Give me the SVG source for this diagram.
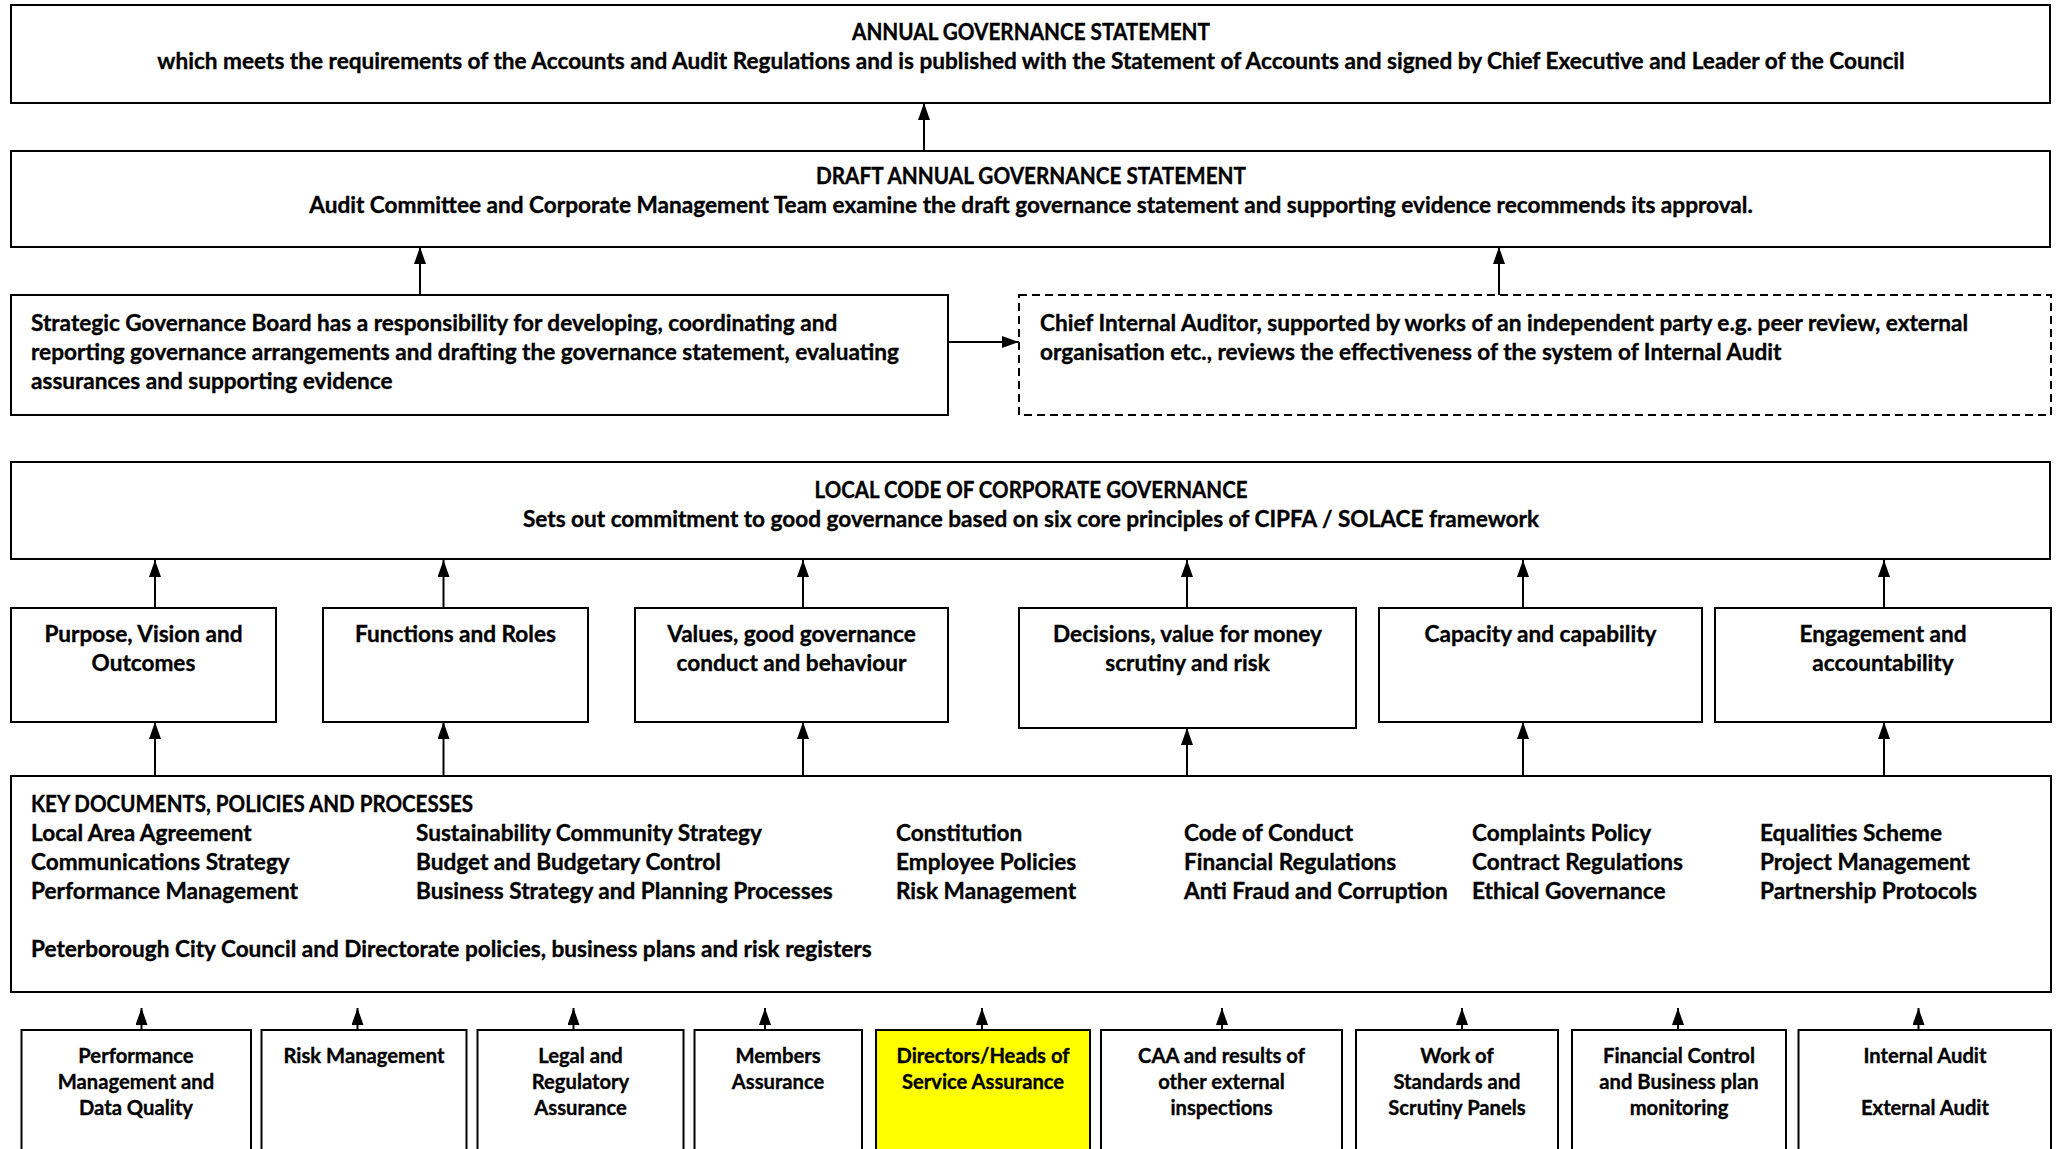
<svg xmlns="http://www.w3.org/2000/svg" width="2058" height="1149" viewBox="0 0 2058 1149">
<defs>
<marker id="ah" markerUnits="userSpaceOnUse" markerWidth="17" markerHeight="12" refX="17" refY="6" orient="auto">
<path d="M0,0 L17,6 L0,12 z" fill="#000"/>
</marker>
<style>
.box{fill:#fff;stroke:#000;stroke-width:2}
.dash{fill:#fff;stroke:#000;stroke-width:2;stroke-dasharray:8 5}
.yel{fill:#ffff00;stroke:#000;stroke-width:2}
text{font-family:Lato,"Liberation Sans",sans-serif;font-weight:bold;font-size:22.6px;fill:#000;stroke:#000;stroke-width:0.35px}
.c{text-anchor:middle}
.s{font-size:20.2px}
.con line{stroke:#000;stroke-width:2;marker-end:url(#ah)}
</style>
</defs>
<rect width="2058" height="1149" fill="#fff"/>

<g id="annual">
<rect class="box" x="11" y="5" width="2039" height="98"/>
<text class="c" x="1031" y="39.5" textLength="358" lengthAdjust="spacingAndGlyphs">ANNUAL GOVERNANCE STATEMENT</text>
<text class="c" x="1031" y="68.5">which meets the requirements of the Accounts and Audit Regulations and is published with the Statement of Accounts and signed by Chief Executive and Leader of the Council</text>
</g>
<g id="draft">
<rect class="box" x="11" y="151" width="2039" height="96"/>
<text class="c" x="1031" y="183.5" textLength="430" lengthAdjust="spacingAndGlyphs">DRAFT ANNUAL GOVERNANCE STATEMENT</text>
<text class="c" x="1031" y="212.5">Audit Committee and Corporate Management Team examine the draft governance statement and supporting evidence recommends its approval.</text>
</g>
<g id="strategic">
<rect class="box" x="11" y="295" width="937" height="120"/>
<text x="31" y="330.5">Strategic Governance Board has a responsibility for developing, coordinating and</text>
<text x="31" y="359.5">reporting governance arrangements and drafting the governance statement, evaluating</text>
<text x="31" y="388.5">assurances and supporting evidence</text>
</g>
<g id="chief">
<rect class="dash" x="1019" y="295" width="1032" height="120"/>
<text x="1040" y="330.5">Chief Internal Auditor, supported by works of an independent party e.g. peer review, external</text>
<text x="1040" y="359.5">organisation etc., reviews the effectiveness of the system of Internal Audit</text>
</g>
<g id="localcode">
<rect class="box" x="11" y="462" width="2039" height="97"/>
<text class="c" x="1031" y="497.5" textLength="433" lengthAdjust="spacingAndGlyphs">LOCAL CODE OF CORPORATE GOVERNANCE</text>
<text class="c" x="1031" y="526.5">Sets out commitment to good governance based on six core principles of CIPFA / SOLACE framework</text>
</g>

<g id="purpose">
<rect class="box" x="11" y="608" width="265" height="114"/>
<text class="c" x="143.5" y="641.5">Purpose, Vision and</text>
<text class="c" x="143.5" y="670.5">Outcomes</text>
</g>
<g id="functions">
<rect class="box" x="323" y="608" width="265" height="114"/>
<text class="c" x="455.5" y="641.5">Functions and Roles</text>
</g>
<g id="values">
<rect class="box" x="635" y="608" width="313" height="114"/>
<text class="c" x="791.5" y="641.5">Values, good governance</text>
<text class="c" x="791.5" y="670.5">conduct and behaviour</text>
</g>
<g id="decisions">
<rect class="box" x="1019" y="608" width="337" height="120"/>
<text class="c" x="1187.5" y="641.5">Decisions, value for money</text>
<text class="c" x="1187.5" y="670.5">scrutiny and risk</text>
</g>
<g id="capacity">
<rect class="box" x="1379" y="608" width="323" height="114"/>
<text class="c" x="1540.5" y="641.5">Capacity and capability</text>
</g>
<g id="engagement">
<rect class="box" x="1715" y="608" width="336" height="114"/>
<text class="c" x="1883" y="641.5">Engagement and</text>
<text class="c" x="1883" y="670.5">accountability</text>
</g>

<g id="keydocs">
<rect class="box" x="11" y="776" width="2040" height="216"/>
<text x="31" y="811.5" textLength="442" lengthAdjust="spacingAndGlyphs">KEY DOCUMENTS, POLICIES AND PROCESSES</text>
<text x="31" y="840.5">Local Area Agreement</text>
<text x="31" y="869.5">Communications Strategy</text>
<text x="31" y="898.5">Performance Management</text>
<text x="416" y="840.5">Sustainability Community Strategy</text>
<text x="416" y="869.5">Budget and Budgetary Control</text>
<text x="416" y="898.5">Business Strategy and Planning Processes</text>
<text x="896" y="840.5">Constitution</text>
<text x="896" y="869.5">Employee Policies</text>
<text x="896" y="898.5">Risk Management</text>
<text x="1184" y="840.5">Code of Conduct</text>
<text x="1184" y="869.5">Financial Regulations</text>
<text x="1184" y="898.5">Anti Fraud and Corruption</text>
<text x="1472" y="840.5">Complaints Policy</text>
<text x="1472" y="869.5">Contract Regulations</text>
<text x="1472" y="898.5">Ethical Governance</text>
<text x="1760" y="840.5">Equalities Scheme</text>
<text x="1760" y="869.5">Project Management</text>
<text x="1760" y="898.5">Partnership Protocols</text>
<text x="31" y="956.5">Peterborough City Council and Directorate policies, business plans and risk registers</text>
</g>

<g id="perf">
<rect class="box" x="21.5" y="1030" width="229.5" height="140"/>
<text class="c s" x="136" y="1063">Performance</text>
<text class="c s" x="136" y="1089">Management and</text>
<text class="c s" x="136" y="1115">Data Quality</text>
</g>
<g id="risk">
<rect class="box" x="261.5" y="1030" width="205" height="140"/>
<text class="c s" x="364" y="1063">Risk Management</text>
</g>
<g id="legal">
<rect class="box" x="477.5" y="1030" width="206" height="140"/>
<text class="c s" x="580.5" y="1063">Legal and</text>
<text class="c s" x="580.5" y="1089">Regulatory</text>
<text class="c s" x="580.5" y="1115">Assurance</text>
</g>
<g id="members">
<rect class="box" x="694.5" y="1030" width="167.5" height="140"/>
<text class="c s" x="778" y="1063">Members</text>
<text class="c s" x="778" y="1089">Assurance</text>
</g>
<g id="directors">
<rect class="yel" x="876" y="1030" width="214" height="140"/>
<text class="c s" x="983" y="1063">Directors/Heads of</text>
<text class="c s" x="983" y="1089">Service Assurance</text>
</g>
<g id="caa">
<rect class="box" x="1101" y="1030" width="241" height="140"/>
<text class="c s" x="1221.5" y="1063">CAA and results of</text>
<text class="c s" x="1221.5" y="1089">other external</text>
<text class="c s" x="1221.5" y="1115">inspections</text>
</g>
<g id="standards">
<rect class="box" x="1356" y="1030" width="202" height="140"/>
<text class="c s" x="1457" y="1063">Work of</text>
<text class="c s" x="1457" y="1089">Standards and</text>
<text class="c s" x="1457" y="1115">Scrutiny Panels</text>
</g>
<g id="financial">
<rect class="box" x="1572" y="1030" width="214" height="140"/>
<text class="c s" x="1679" y="1063">Financial Control</text>
<text class="c s" x="1679" y="1089">and Business plan</text>
<text class="c s" x="1679" y="1115">monitoring</text>
</g>
<g id="audit">
<rect class="box" x="1798.5" y="1030" width="252.5" height="140"/>
<text class="c s" x="1925" y="1063">Internal Audit</text>
<text class="c s" x="1925" y="1115">External Audit</text>
</g>

<g id="connectors" class="con">
<line x1="924" y1="151" x2="924" y2="103"/>
<line x1="420" y1="295" x2="420" y2="247"/>
<line x1="1499" y1="295" x2="1499" y2="247"/>
<line x1="948" y1="342" x2="1019" y2="342"/>
<line x1="155" y1="608" x2="155" y2="560"/>
<line x1="443.5" y1="608" x2="443.5" y2="560"/>
<line x1="803" y1="608" x2="803" y2="560"/>
<line x1="1187" y1="608" x2="1187" y2="560"/>
<line x1="1523" y1="608" x2="1523" y2="560"/>
<line x1="1884" y1="608" x2="1884" y2="560"/>
<line x1="155" y1="776" x2="155" y2="722"/>
<line x1="443.5" y1="776" x2="443.5" y2="722"/>
<line x1="803" y1="776" x2="803" y2="722"/>
<line x1="1187" y1="776" x2="1187" y2="728"/>
<line x1="1523" y1="776" x2="1523" y2="722"/>
<line x1="1884" y1="776" x2="1884" y2="722"/>
<line x1="141.5" y1="1030" x2="141.5" y2="1008"/>
<line x1="357.5" y1="1030" x2="357.5" y2="1008"/>
<line x1="573.5" y1="1030" x2="573.5" y2="1008"/>
<line x1="765" y1="1030" x2="765" y2="1008"/>
<line x1="982" y1="1030" x2="982" y2="1008"/>
<line x1="1222" y1="1030" x2="1222" y2="1008"/>
<line x1="1462" y1="1030" x2="1462" y2="1008"/>
<line x1="1678" y1="1030" x2="1678" y2="1008"/>
<line x1="1918.5" y1="1030" x2="1918.5" y2="1008"/>
</g>
</svg>
